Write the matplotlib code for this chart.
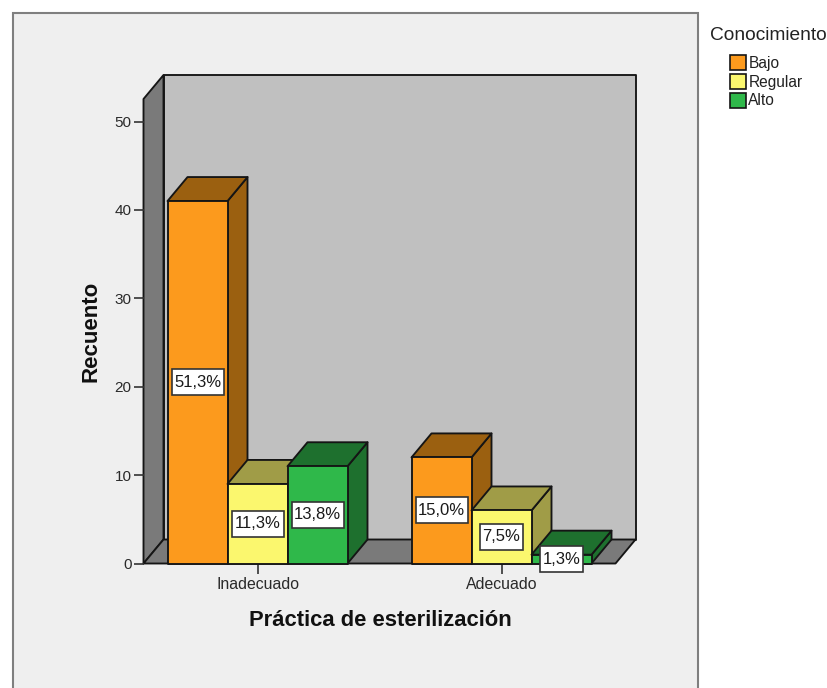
import matplotlib
matplotlib.use('Agg')
import matplotlib.pyplot as plt
from matplotlib.patches import Polygon, Rectangle, Patch

plt.rcParams['font.family'] = ['Liberation Sans', 'DejaVu Sans']

# Datos: recuento por practica y nivel de conocimiento
practicas = ['Inadecuado', 'Adecuado']
niveles = ['Bajo', 'Regular', 'Alto']
recuento = [[41, 9, 11],
            [12, 6, 1]]
etiquetas = [['51,3%', '11,3%', '13,8%'],
             ['15,0%', '7,5%', '1,3%']]
yticks = [0, 10, 20, 30, 40, 50]

# Colores: frente, lateral y tapa de cada barra
frente = ['#FC9A1D', '#FBF76E', '#2FB84A']
lateral = ['#9B6010', '#A09C47', '#1E702E']
tapa = ['#9B6010', '#A09C47', '#1E702E']
pared = '#C0C0C0'
suelo = '#7A7A7A'
borde = '#151515'

W, H = 827, 688
fig = plt.figure(figsize=(W/100, H/100), dpi=100, facecolor='white')

# Panel gris de fondo, se corta por debajo de la figura
fig.add_artist(Rectangle((13/W, -0.02), 685/W, 1.02-13/H, transform=fig.transFigure,
                         facecolor='#EFEFEF', edgecolor='#7F7F7F', linewidth=1.5, zorder=-1))

# Ejes en pixeles: x de 143.5 a 615.5, y de 563.5 a 99
ax = fig.add_axes([143.5/W, (H-563.5)/H, 472/W, 464.5/H])
ax.patch.set_visible(False)
px_x = 244.0   # pixeles entre categorias
px_y = 8.84    # pixeles por unidad de recuento
ax.set_xlim(-114/px_x, 358/px_x)
ax.set_ylim(0, 464.5/px_y)
for s in ax.spines.values():
    s.set_visible(False)

dx = 20/px_x   # profundidad del efecto 3D
dy = 24/px_y
ancho = 60/px_x
x0, x1 = ax.get_xlim()
ytop = ax.get_ylim()[1]


def poly(puntos, color, z):
    ax.add_patch(Polygon(puntos, closed=True, facecolor=color, edgecolor=borde,
                         linewidth=1.35, joinstyle='round', clip_on=False, zorder=z))


# Paredes y suelo
poly([(x0+dx, dy), (x1+dx, dy), (x1+dx, ytop+dy), (x0+dx, ytop+dy)], pared, 1)
poly([(x0, 0), (x0+dx, dy), (x0+dx, ytop+dy), (x0, ytop)], suelo, 1)
poly([(x0, 0), (x1, 0), (x1+dx, dy), (x0+dx, dy)], suelo, 1)

# Barras de izquierda a derecha para que se solapen bien
z = 2
for i in range(len(practicas)):
    for j in range(len(niveles)):
        a = i + (j-1.5)*ancho
        b = a + ancho
        v = recuento[i][j]
        poly([(b, 0), (b+dx, dy), (b+dx, v+dy), (b, v)], lateral[j], z)
        poly([(a, v), (b, v), (b+dx, v+dy), (a+dx, v+dy)], tapa[j], z)
        poly([(a, 0), (b, 0), (b, v), (a, v)], frente[j], z+0.5)
        z += 1

# Etiquetas de porcentaje en el centro del frente de cada barra
for i in range(len(practicas)):
    for j in range(len(niveles)):
        xc = i + (j-1)*ancho
        yc = recuento[i][j]/2
        txt = etiquetas[i][j]
        bw = (52 if len(txt) > 4 else 43)/px_x
        bh = 26/px_y
        ax.add_patch(Rectangle((xc-bw/2, yc-bh/2), bw, bh, facecolor='white', edgecolor='#333333',
                               linewidth=1.2, clip_on=False, zorder=50))
        ax.text(xc, yc, txt, ha='center', va='center', fontsize=12, color='#1A1A1A', zorder=51)

ax.set_xticks(range(len(practicas)), practicas)
ax.set_yticks(yticks)
ax.tick_params(axis='x', length=7.2, width=1.2, color='#333333', labelsize=11.4,
               labelcolor='#2A2A2A', pad=2.5)
ax.tick_params(axis='y', length=7.2, width=1.2, color='#333333', labelsize=11,
               labelcolor='#2A2A2A', pad=1.5)

fig.text(380/W, 1-620/H, 'Práctica de esterilización', ha='center', va='center',
         fontsize=15.8, fontweight='bold', color='#111111')
fig.text(91/W, 1-331/H, 'Recuento', ha='center', va='center', rotation=90,
         fontsize=16, fontweight='bold', color='#111111')

# Leyenda a la derecha del panel
fig.text(710/W, 1-35/H, 'Conocimiento', ha='left', va='center', fontsize=13.8, color='#222222')
manejadores = [Patch(facecolor=frente[k], edgecolor=borde, linewidth=1.2, label=niveles[k])
               for k in range(len(niveles))]
fig.legend(handles=manejadores, loc='upper left', bbox_to_anchor=(730/W, 1-55/H),
           frameon=False, borderaxespad=0, borderpad=0, handlelength=1.03, handleheight=1.1,
           handletextpad=0.15, labelspacing=0.2, fontsize=11.2, labelcolor='#222222')

fig.savefig('out.png', dpi=100)
